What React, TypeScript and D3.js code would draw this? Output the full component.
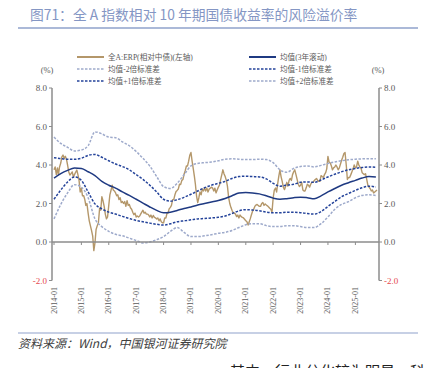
import React from "react";
import * as d3 from "d3";

const titleText = "图71：全 A 指数相对 10 年期国债收益率的风险溢价率";
const sourceText = "资料来源：Wind，中国银河证券研究院";
const bodyText = "其中，行业分化较为明显，科";
const yTicks = [-2, 0, 2, 4, 6, 8];
const xTickYears = [2014, 2015, 2016, 2017, 2018, 2019, 2020, 2021, 2022, 2023, 2024, 2025];

// quarterly samples 2014-01 .. 2025-10
const bandMean = [3.32, 3.55, 3.72, 3.84, 3.82, 3.65, 3.45, 3.15, 2.95, 2.8, 2.6, 2.42, 2.22, 2.02, 1.82, 1.64, 1.52, 1.55, 1.64, 1.74, 1.82, 1.92, 2.0, 2.08, 2.16, 2.26, 2.4, 2.54, 2.57, 2.55, 2.5, 2.4, 2.28, 2.22, 2.25, 2.3, 2.33, 2.3, 2.25, 2.4, 2.6, 2.78, 2.95, 3.08, 3.2, 3.32, 3.4, 3.38];
const bandPlus1 = [4.38, 4.33, 4.3, 4.3, 4.35, 4.5, 4.55, 4.4, 4.22, 4.05, 3.92, 3.75, 3.5, 3.25, 2.95, 2.6, 2.22, 2.12, 2.2, 2.32, 2.48, 2.65, 2.82, 2.95, 3.05, 3.15, 3.3, 3.4, 3.42, 3.4, 3.38, 3.28, 3.05, 2.9, 2.95, 3.0, 3.1, 3.12, 3.1, 3.22, 3.38, 3.52, 3.65, 3.75, 3.82, 3.87, 3.9, 3.88];
const bandPlus2 = [5.45, 5.12, 4.92, 4.73, 4.78, 5.0, 5.72, 5.62, 5.45, 5.42, 5.2, 5.0, 4.7, 4.35, 3.95, 3.4, 2.88, 2.78, 3.05, 3.5, 3.95, 4.08, 4.12, 4.15, 4.22, 4.3, 4.32, 4.3, 4.28, 4.28, 4.3, 4.28, 4.12, 3.75, 3.62, 3.82, 3.92, 3.95, 3.9, 3.98, 4.08, 4.16, 4.22, 4.27, 4.3, 4.32, 4.33, 4.32];
const bandMinus1 = [2.22, 2.7, 3.12, 3.38, 3.2, 2.6, 1.98, 1.72, 1.55, 1.45, 1.33, 1.22, 1.12, 1.05, 0.98, 0.92, 0.88, 0.95, 1.05, 1.1, 1.15, 1.2, 1.22, 1.25, 1.28, 1.35, 1.48, 1.62, 1.68, 1.66, 1.62, 1.55, 1.52, 1.52, 1.55, 1.55, 1.52, 1.48, 1.45, 1.58, 1.85, 2.1, 2.35, 2.52, 2.68, 2.82, 2.9, 2.86];
const bandMinus2 = [1.2, 1.95, 2.55, 2.98, 2.85, 2.3, 1.2, 0.8, 0.55, 0.4, 0.32, 0.2, 0.08, -0.05, 0.0, 0.12, 0.28, 0.55, 0.75, 0.5, 0.28, 0.28, 0.32, 0.38, 0.45, 0.5, 0.6, 0.75, 0.9, 0.95, 0.95, 0.85, 0.8, 0.8, 0.85, 0.85, 0.8, 0.75, 0.75, 0.95, 1.3, 1.7, 1.95, 2.1, 2.3, 2.42, 2.45, 2.42];

// semi-monthly samples (1st & 16th) from 2014-01-01
const erpValues = [
  3.75, 3.9, 3.5, 3.85, 3.5, 3.9, 4.1, 4.42, 4.52, 4.35,
  4.45, 4.3, 4.0, 3.65, 3.48, 3.55, 3.64, 3.38, 3.5, 3.62,
  3.74, 3.5, 3.2, 2.6, 2.8, 2.4, 2.4, 2.2, 1.9, 2.0,
  1.5, 1.1, 0.85, 0.6, 0.3, -0.45, -0.05, 0.65, 0.85, 1.0,
  1.75, 1.65, 2.35, 2.15, 1.85, 1.45, 1.2, 1.3, 1.9, 2.45,
  2.7, 2.95, 2.7, 2.65, 2.55, 2.4, 2.45, 2.2, 2.3, 2.05,
  2.1, 2.0, 2.1, 1.85, 2.15, 1.9, 1.95, 1.78, 1.7, 1.55,
  1.42, 1.5, 1.3, 1.35, 1.3, 1.35, 1.45, 1.55, 1.65, 1.5,
  1.55, 1.45, 1.45, 1.4, 1.3, 1.4, 1.25, 1.38, 1.28, 1.25,
  1.2, 1.25, 1.1, 1.2, 1.05, 1.0, 1.0, 1.25, 1.25, 1.5,
  1.5, 1.72, 1.8, 1.9, 2.2, 2.2, 2.45, 2.62, 2.68, 2.75,
  3.0, 2.98, 3.2, 3.25, 3.52, 3.7, 3.95, 3.95, 4.2, 4.5,
  4.65, 4.2, 3.8, 3.4, 3.0, 2.4, 2.05, 2.3, 2.6, 2.45,
  2.75, 2.65, 2.8, 2.65, 2.8, 2.6, 2.75, 2.8, 2.85, 2.8,
  2.65, 2.8, 2.55, 2.7, 2.85, 2.95, 3.25, 3.5, 3.75, 3.55,
  3.4, 3.2, 2.9, 2.35, 2.0, 1.8, 1.65, 1.52, 1.5, 1.45,
  1.32, 1.4, 1.25, 1.4, 1.32, 1.28, 1.25, 1.18, 1.1, 1.05,
  0.88, 1.05, 1.2, 1.4, 1.6, 1.7, 1.85, 1.92, 1.95, 1.9,
  1.85, 1.85, 2.0, 2.05, 1.9, 1.98, 1.92, 1.88, 1.82, 1.75,
  1.7, 1.55, 2.3, 2.7, 2.8, 2.6, 3.0, 3.4, 3.75, 3.4,
  3.15, 2.85, 2.72, 2.9, 3.1, 2.9, 3.2, 3.3, 3.2, 3.5,
  3.65, 3.75, 3.5, 3.25, 3.0, 2.88, 2.95, 3.1, 2.7, 2.65,
  2.65, 2.8, 3.0, 2.95, 2.85, 3.0, 3.1, 3.1, 3.18, 3.25,
  3.3, 3.2, 3.15, 3.15, 3.45, 3.4, 3.35, 3.5, 3.6, 3.8,
  4.45, 4.15, 4.1, 3.95, 3.75, 3.85, 3.9, 4.0, 3.9, 3.75,
  3.85, 4.05, 4.25, 4.4, 4.6, 4.65, 4.0, 3.25, 3.35, 3.35,
  3.5, 3.65, 3.8, 4.0, 3.85, 3.9, 4.2, 4.0, 3.9, 3.85,
  3.6, 3.55, 3.5, 3.55, 3.25, 2.95, 2.85, 2.78, 2.65, 2.7,
  2.55, 2.6, 2.65, 2.7,
];

const legendLabels = {
  erp: "全A:ERP(相对中债)(左轴)",
  mean: "均值(3年滚动)",
  m2: "均值-2倍标准差",
  m1: "均值-1倍标准差",
  p1: "均值+1倍标准差",
  p2: "均值+2倍标准差",
};

const C_TAN = "#B4976A";
const C_MEAN = "#1F3A82";
const C_DARK = "#24439A";
const C_LIGHT = "#9EAACB";
const C_AXIS = "#8C8C8C";
const C_TEXT = "#595959";
const SERIF = "'Liberation Serif', 'Times New Roman', 'Noto Sans CJK SC', serif";
const CJK = "'Noto Sans CJK SC', 'Noto Sans', sans-serif";

export default function App() {
  const x = d3.scaleTime().domain([new Date(2014, 0, 1), new Date(2025, 0, 1)]).range([54, 355.4]);
  const y = d3.scaleLinear().domain([-2, 8]).range([280.5, 88]);
  const bandDates = d3.timeMonth.every(3)!.range(new Date(2014, 0, 1), new Date(2025, 10, 1));
  const erpDates = erpValues.map((_, k) => new Date(2014 + Math.floor(k / 24), Math.floor((k % 24) / 2), k % 2 === 0 ? 1 : 16));

  const bandLine = d3.line<number>().x((_, i) => x(bandDates[i])).y((d) => y(d)).curve(d3.curveMonotoneX);
  const erpLine = d3.line<number>().x((_, i) => x(erpDates[i])).y((d) => y(d));

  const axL = 52, axR = 379;
  const y0 = y(0);

  const legendRow = (ly: number, lx: number, stroke: string, dash: string | undefined, w: number, label: string) => (
    <g>
      <line x1={lx} x2={lx + 27} y1={ly} y2={ly} stroke={stroke} strokeWidth={w} strokeDasharray={dash} />
      <text x={lx + 31} y={ly} dominantBaseline="central" fontSize={7.6} fill={C_TEXT} fontFamily={SERIF}>{label}</text>
    </g>
  );

  return (
    <svg width={432} height={368} style={{ position: "absolute", left: 0, top: 0, background: "#fff" }} xmlns="http://www.w3.org/2000/svg">
      <rect width={432} height={368} fill="#fff" />
      <text x={30} y={20} fontSize={13.8} fill="#8496C4" fontFamily={CJK}>{titleText}</text>
      <line x1={18} x2={418} y1={28} y2={28} stroke="#8FA2CB" strokeWidth={1.5} />

      {legendRow(57, 77, C_TAN, undefined, 2, legendLabels.erp)}
      {legendRow(57, 249, C_MEAN, undefined, 2, legendLabels.mean)}
      {legendRow(69, 77, C_LIGHT, "2.5,1.5", 1.6, legendLabels.m2)}
      {legendRow(69, 249, C_DARK, "2.5,1.5", 1.6, legendLabels.m1)}
      {legendRow(81, 77, C_DARK, "2.5,1.5", 1.6, legendLabels.p1)}
      {legendRow(81, 249, C_LIGHT, "2.5,1.5", 1.6, legendLabels.p2)}

      <text x={47} y={73} textAnchor="middle" fontSize={8.5} fill={C_TEXT} fontFamily={SERIF}>(%)</text>
      <text x={378} y={73} textAnchor="middle" fontSize={8.5} fill={C_TEXT} fontFamily={SERIF}>(%)</text>

      {/* axes */}
      <line x1={axL} x2={axL} y1={y(8)} y2={y(-2)} stroke={C_AXIS} strokeWidth={1.5} />
      <line x1={axR} x2={axR} y1={y(8)} y2={y(-2)} stroke={C_AXIS} strokeWidth={1.5} />
      {yTicks.map((t) => (
        <g key={t}>
          <line x1={axL - 3} x2={axL} y1={y(t)} y2={y(t)} stroke={C_AXIS} strokeWidth={1} />
          <line x1={axR} x2={axR + 3} y1={y(t)} y2={y(t)} stroke={C_AXIS} strokeWidth={1} />
          <text x={axL - 5} y={y(t)} textAnchor="end" dominantBaseline="central" fontSize={9} fill={t < 0 ? "#E5484D" : C_TEXT} fontFamily={SERIF}>{t.toFixed(1)}</text>
          <text x={axR + 5} y={y(t)} textAnchor="start" dominantBaseline="central" fontSize={9} fill={t < 0 ? "#E5484D" : C_TEXT} fontFamily={SERIF}>{t.toFixed(1)}</text>
        </g>
      ))}

      {/* series */}
      <path d={erpLine(erpValues) || ""} fill="none" stroke={C_TAN} strokeWidth={1.4} strokeLinejoin="round" />
      <path d={bandLine(bandMean) || ""} fill="none" stroke={C_MEAN} strokeWidth={1.5} />
      <path d={bandLine(bandMinus2) || ""} fill="none" stroke={C_LIGHT} strokeWidth={1.5} strokeDasharray="2.5,1.5" />
      <path d={bandLine(bandMinus1) || ""} fill="none" stroke={C_DARK} strokeWidth={1.5} strokeDasharray="2.5,1.5" />
      <path d={bandLine(bandPlus1) || ""} fill="none" stroke={C_DARK} strokeWidth={1.5} strokeDasharray="2.5,1.5" />
      <path d={bandLine(bandPlus2) || ""} fill="none" stroke={C_LIGHT} strokeWidth={1.5} strokeDasharray="2.5,1.5" />

      {/* zero axis */}
      <line x1={axL} x2={axR} y1={y0} y2={y0} stroke={C_AXIS} strokeWidth={1.5} />
      {xTickYears.map((yr) => {
        const px = x(new Date(yr, 0, 1));
        return (
          <g key={yr}>
            <line x1={px} x2={px} y1={y0} y2={y0 + 3} stroke={C_AXIS} strokeWidth={1} />
            <text transform={`translate(${px},287) rotate(-90)`} textAnchor="end" dominantBaseline="central" fontSize={8} fill={C_TEXT} fontFamily={SERIF}>{`${yr}-01`}</text>
          </g>
        );
      })}

      <line x1={18} x2={418} y1={333} y2={333} stroke="#8FA2CB" strokeWidth={1.2} />
      <text x={18} y={348} fontSize={12} fontStyle="italic" fill="#404040" fontFamily={CJK}>{sourceText}</text>
      <text x={230} y={377} fontSize={15} fill="#222" fontFamily={CJK}>{bodyText}</text>
    </svg>
  );
}
